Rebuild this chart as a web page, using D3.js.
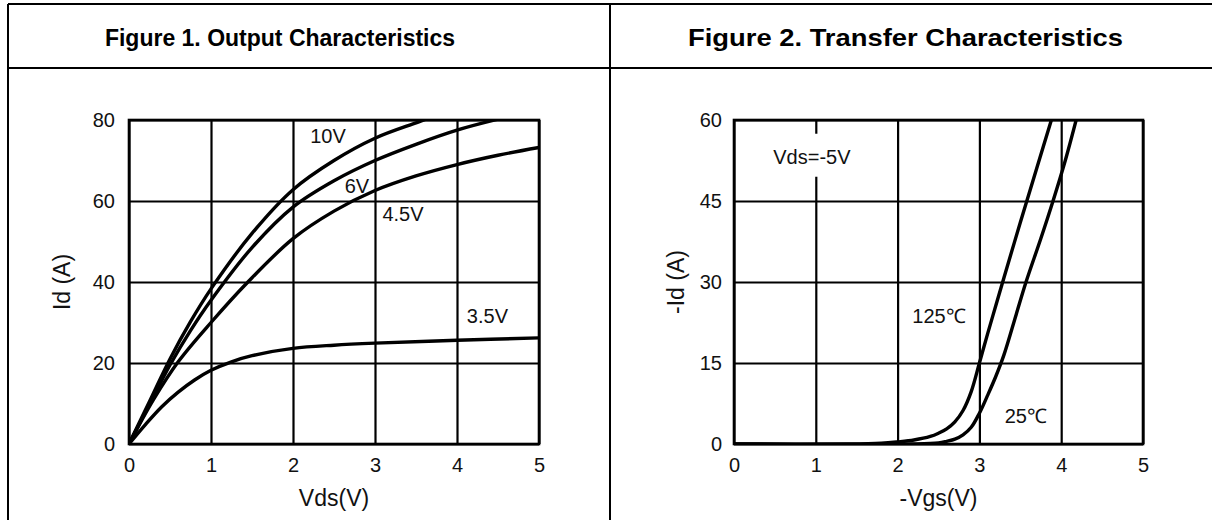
<!DOCTYPE html>
<html>
<head>
<meta charset="utf-8">
<script src="https://cdn.jsdelivr.net/npm/d3@7"></script>
<style>
  body { margin: 0; background: #fff; }
  svg { display: block; font-family: "Liberation Sans", Arial, sans-serif; }
</style>
</head>
<body>
<svg id="chart" width="1212" height="520"></svg>
<script>
// ---- data ----
const titles = ["Figure 1. Output Characteristics", "Figure 2. Transfer Characteristics"];

// figure 1 : Id vs Vds for several Vgs
const vdsTicks = [0, 1, 2, 3, 4, 5];
const idTicks = [0, 20, 40, 60, 80];
const vgsLevels = ["10V", "6V", "4.5V", "3.5V"];
const out10 = [[0,0],[0.25,10.5],[0.5,21],[0.75,30.2],[1,38.3],[1.5,52],[2,62.8],[2.5,70],[3,75.5],[3.5,79.3],[3.62,80.2]];
const out6 = [[0,0],[0.25,9.8],[0.5,19.5],[0.75,28],[1,35.5],[1.5,48.5],[2,58.5],[2.5,65],[3,70],[3.5,74],[4,77.5],[4.5,80.2]];
const out45 = [[0,0],[0.3,11],[0.6,20.3],[1,30],[1.45,40],[2,50.7],[2.5,57.5],[3,62.6],[3.5,66.2],[4,69],[4.5,71.3],[5,73.2]];
const out35 = [[0,0],[0.2,4.8],[0.4,9.2],[0.6,12.8],[0.8,15.8],[1,18.2],[1.25,20.3],[1.5,21.8],[2,23.6],[2.5,24.4],[3,24.9],[4,25.6],[5,26.2]];

// figure 2 : -Id vs -Vgs at two temperatures
const vgsTicks = [0, 1, 2, 3, 4, 5];
const negIdTicks = [0, 15, 30, 45, 60];
const temps = ["125℃", "25℃"];
const tr125 = [[0,0],[1.4,0],[1.8,0.15],[2,0.4],[2.2,0.75],[2.4,1.4],[2.5,2],[2.6,2.8],[2.7,4.1],[2.8,6.2],[2.9,9.7],[3,15],[3.1,20.4],[3.2,25.6],[3.3,30.8],[3.5,41],[3.7,51],[3.9,61]];
const tr25 = [[0,0],[2.2,0],[2.5,0.2],[2.6,0.5],[2.7,0.9],[2.8,1.7],[2.9,3.1],[3,5.7],[3.1,9],[3.2,12.5],[3.3,16.5],[3.45,24],[3.57,30],[3.75,38],[3.9,45],[4.05,52.5],[4.2,61]];

// ---- layout ----
const svg = d3.select("#chart");
const black = "#000";

// table frame
[[8, 4, 1212, 4], [8, 68, 1212, 68], [8, 4, 8, 520], [610, 4, 610, 520]].forEach(l => {
  svg.append("line").attr("x1", l[0]).attr("y1", l[1]).attr("x2", l[2]).attr("y2", l[3])
    .attr("stroke", black).attr("stroke-width", 2);
});

// header titles (second one is set wider in the source)
const titlePos = [{ x: 280, size: 23, w: null }, { x: 905.5, size: 24, w: 435 }];
svg.selectAll("text.title")
  .data(titles)
  .join("text")
  .attr("class", "title")
  .attr("x", (d, i) => titlePos[i].x)
  .attr("y", 46)
  .attr("text-anchor", "middle")
  .attr("font-size", (d, i) => titlePos[i].size)
  .attr("font-weight", "bold")
  .attr("textLength", (d, i) => titlePos[i].w)
  .attr("lengthAdjust", (d, i) => titlePos[i].w ? "spacingAndGlyphs" : null)
  .text(d => d);

function panel(opt) {
  const x = d3.scaleLinear().domain([0, 5]).range([opt.left, opt.right]);
  const y = d3.scaleLinear().domain(opt.yDomain).range([444, 120]);
  const g = svg.append("g");

  // grid + tick labels
  const gx = g.append("g").attr("transform", "translate(0,444)")
    .call(d3.axisBottom(x).tickValues(opt.xTicks).tickFormat(d3.format("d"))
      .tickSize(-324).tickPadding(14));
  const gy = g.append("g").attr("transform", `translate(${opt.left},0)`)
    .call(d3.axisLeft(y).tickValues(opt.yTicks).tickFormat(d3.format("d"))
      .tickSize(-(opt.right - opt.left)).tickPadding(opt.yPad));
  [gx, gy].forEach(a => {
    a.attr("font-size", 20).attr("font-family", null);
    a.select(".domain").remove();
    a.selectAll("line").attr("stroke", black).attr("stroke-width", 2.2);
    a.selectAll("text").attr("fill", "#111");
  });

  // white boxes behind in-plot notes (break the grid)
  opt.notes.filter(n => n.box).forEach(n => {
    g.append("rect").attr("x", x(n.x) - 4).attr("y", y(n.y) - 30)
      .attr("width", 90).attr("height", 43).attr("fill", "#fff");
  });

  g.append("rect")
    .attr("x", opt.left).attr("y", 120)
    .attr("width", opt.right - opt.left).attr("height", 324)
    .attr("fill", "none").attr("stroke", black).attr("stroke-width", 2.6);

  const clipId = "clip" + opt.left;
  svg.append("clipPath").attr("id", clipId).append("rect")
    .attr("x", opt.left).attr("y", 119).attr("width", opt.right - opt.left + 2).attr("height", 326);

  const line = d3.line().x(d => x(d[0])).y(d => y(d[1])).curve(d3.curveCatmullRom.alpha(0.5));
  g.append("g").attr("clip-path", `url(#${clipId})`)
    .selectAll("path")
    .data(opt.series)
    .join("path")
    .attr("d", line)
    .attr("fill", "none")
    .attr("stroke", black)
    .attr("stroke-width", 3.4)
    .attr("stroke-linejoin", "round");

  g.selectAll("text.note")
    .data(opt.notes)
    .join("text")
    .attr("class", "note")
    .attr("x", d => x(d.x)).attr("y", d => y(d.y))
    .attr("font-size", 20).attr("fill", "#111")
    .text(d => d.t);

  g.append("text")
    .attr("x", (opt.left + opt.right) / 2).attr("y", 506)
    .attr("text-anchor", "middle").attr("font-size", 23).attr("fill", "#111")
    .text(opt.xTitle);
  g.append("text")
    .attr("transform", `translate(${opt.yTitleX},282) rotate(-90)`)
    .attr("text-anchor", "middle").attr("font-size", 23).attr("fill", "#111")
    .text(opt.yTitle);
}

panel({
  left: 129, right: 539, yDomain: [0, 80],
  xTicks: vdsTicks, yTicks: idTicks, yPad: 14,
  series: [out10, out6, out45, out35],
  notes: [
    { t: vgsLevels[0], x: 2.21, y: 74.3 },
    { t: vgsLevels[1], x: 2.63, y: 62 },
    { t: vgsLevels[2], x: 3.09, y: 55 },
    { t: vgsLevels[3], x: 4.12, y: 29.9 }
  ],
  xTitle: "Vds(V)", yTitle: "Id (A)", yTitleX: 70
});

panel({
  left: 734, right: 1143, yDomain: [0, 60],
  xTicks: vgsTicks, yTicks: negIdTicks, yPad: 12,
  series: [tr125, tr25],
  notes: [
    { t: "Vds=-5V", x: 0.48, y: 51.9, box: true },
    { t: temps[0], x: 2.18, y: 22.4 },
    { t: temps[1], x: 3.31, y: 3.9 }
  ],
  xTitle: "-Vgs(V)", yTitle: "-Id (A)", yTitleX: 684
});
</script>
</body>
</html>
